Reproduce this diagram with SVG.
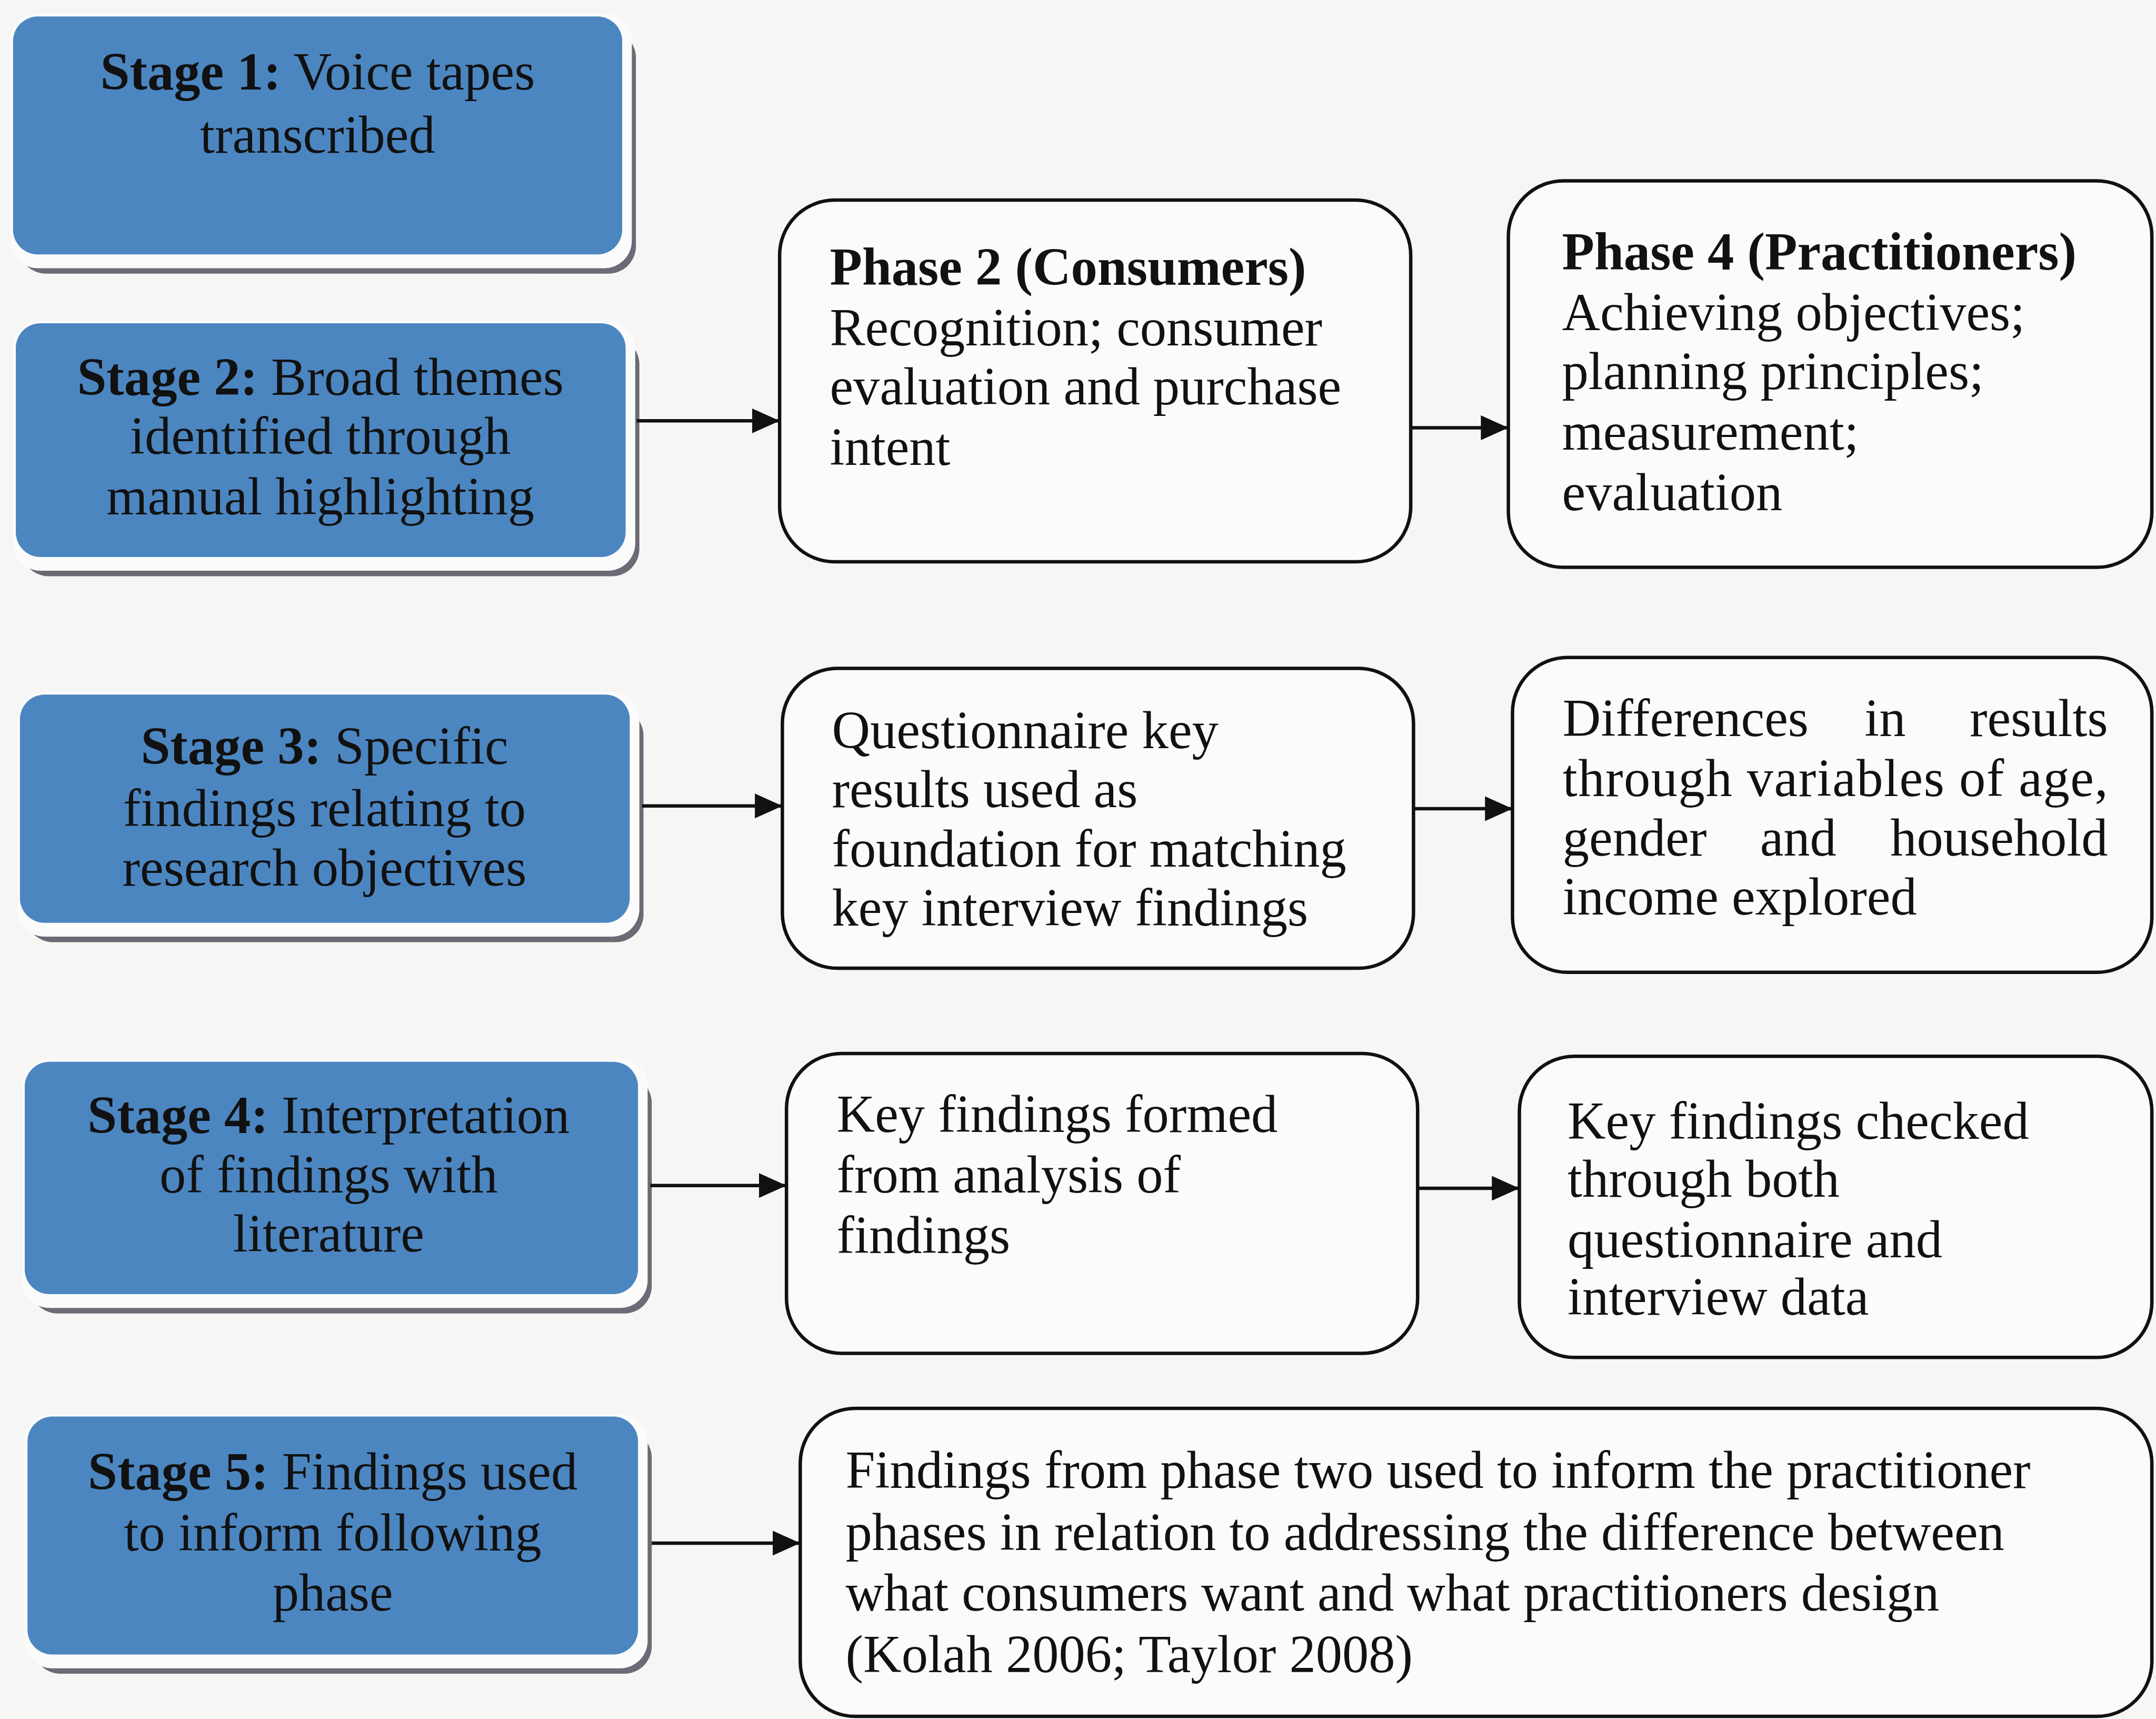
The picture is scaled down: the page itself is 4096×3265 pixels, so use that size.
<svg xmlns="http://www.w3.org/2000/svg" width="4096" height="3265" viewBox="0 0 4096 3265">
  <defs>
    <style>
      text { font-family: "Liberation Serif", "Times New Roman", serif; font-size: 38.5px; fill: #111; }
      .b { font-weight: bold; }
      .mid { text-anchor: middle; }
      .end { text-anchor: end; }
      .shadow { fill: #6b6b75; }
      .rim { fill: #fbfbfb; }
      .blue { fill: #4c86c1; }
      .phase { fill: #fbfbfa; stroke: #111; stroke-width: 2.5; }
      .link { stroke: #111; stroke-width: 2.5; fill: none; marker-end: url(#head); }
    </style>
    <marker id="head" markerUnits="userSpaceOnUse" markerWidth="20" markerHeight="18" refX="19" refY="9" orient="auto">
      <path d="M0,0 L20,9 L0,18 z" fill="#111"/>
    </marker>
  </defs>

  <rect width="4096" height="3265" fill="#f6f6f4"/>

  <!-- all layout below is drawn on a 1568-wide grid and scaled up -->
  <g transform="scale(2.61224)">

    <!-- stage boxes: blue panel on a white rim with a dark drop edge -->
    <g id="stage1">
      <rect class="shadow" x="13.5" y="22" width="449" height="177" rx="20"/>
      <rect class="rim" x="7.5" y="10" width="452" height="185" rx="20"/>
      <rect class="blue" x="9.5" y="12" width="443" height="173" rx="18"/>
      <text class="mid" x="231" y="65"><tspan class="b">Stage 1:</tspan> Voice tapes</text>
      <text class="mid" x="231" y="111">transcribed</text>
    </g>

    <g id="stage2">
      <rect class="shadow" x="15.5" y="245" width="449.5" height="174" rx="20"/>
      <rect class="rim" x="9.5" y="233" width="452.5" height="182" rx="20"/>
      <rect class="blue" x="11.5" y="235" width="443.5" height="170" rx="18"/>
      <text class="mid" x="233" y="287"><tspan class="b">Stage 2:</tspan> Broad themes</text>
      <text class="mid" x="233" y="330">identified through</text>
      <text class="mid" x="233" y="374">manual highlighting</text>
    </g>

    <g id="stage3">
      <rect class="shadow" x="18.5" y="515" width="449.5" height="170" rx="20"/>
      <rect class="rim" x="12.5" y="503" width="452.5" height="178" rx="20"/>
      <rect class="blue" x="14.5" y="505" width="443.5" height="166" rx="18"/>
      <text class="mid" x="236" y="555.5"><tspan class="b">Stage 3:</tspan> Specific</text>
      <text class="mid" x="236" y="600.5">findings relating to</text>
      <text class="mid" x="236" y="644">research objectives</text>
    </g>

    <g id="stage4">
      <rect class="shadow" x="22" y="782" width="452" height="173" rx="20"/>
      <rect class="rim" x="16" y="770" width="455" height="181" rx="20"/>
      <rect class="blue" x="18" y="772" width="446" height="169" rx="18"/>
      <text class="mid" x="239" y="824"><tspan class="b">Stage 4:</tspan> Interpretation</text>
      <text class="mid" x="239" y="867">of findings with</text>
      <text class="mid" x="239" y="910">literature</text>
    </g>

    <g id="stage5">
      <rect class="shadow" x="24" y="1040" width="450" height="177" rx="20"/>
      <rect class="rim" x="18" y="1028" width="453" height="185" rx="20"/>
      <rect class="blue" x="20" y="1030" width="444" height="173" rx="18"/>
      <text class="mid" x="242" y="1083"><tspan class="b">Stage 5:</tspan> Findings used</text>
      <text class="mid" x="242" y="1127.5">to inform following</text>
      <text class="mid" x="242" y="1171">phase</text>
    </g>

    <!-- outlined result boxes -->
    <g id="phase2">
      <rect class="phase" x="567" y="145.5" width="459" height="263" rx="40"/>
      <text class="b" x="603.5" y="207">Phase 2 (Consumers)</text>
      <text x="603.5" y="251">Recognition; consumer</text>
      <text x="603.5" y="294">evaluation and purchase</text>
      <text x="603.5" y="338">intent</text>
    </g>

    <g id="phase4">
      <rect class="phase" x="1097" y="131.5" width="468" height="281" rx="40"/>
      <text class="b" x="1136" y="196">Phase 4 (Practitioners)</text>
      <text x="1136" y="240">Achieving objectives;</text>
      <text x="1136" y="283">planning principles;</text>
      <text x="1136" y="327">measurement;</text>
      <text x="1136" y="371">evaluation</text>
    </g>

    <g id="questionnaire">
      <rect class="phase" x="569" y="486" width="459" height="218" rx="40"/>
      <text x="605" y="544">Questionnaire key</text>
      <text x="605" y="587">results used as</text>
      <text x="605" y="630">foundation for matching</text>
      <text x="605" y="673">key interview findings</text>
    </g>

    <g id="differences">
      <rect class="phase" x="1100" y="478" width="465" height="229" rx="40"/>
      <text x="1136.5" y="535">Differences</text>
      <text x="1356" y="535">in</text>
      <text class="end" x="1533" y="535">results</text>
      <text x="1136.5" y="579" textLength="396.5" lengthAdjust="spacing">through variables of age,</text>
      <text x="1136.5" y="622">gender</text>
      <text x="1280" y="622">and</text>
      <text class="end" x="1533" y="622">household</text>
      <text x="1136.5" y="665">income explored</text>
    </g>

    <g id="findings-formed">
      <rect class="phase" x="572" y="766" width="459" height="218" rx="40"/>
      <text x="608.5" y="823">Key findings formed</text>
      <text x="608.5" y="867">from analysis of</text>
      <text x="608.5" y="911">findings</text>
    </g>

    <g id="findings-checked">
      <rect class="phase" x="1105" y="768" width="460" height="219" rx="40"/>
      <text x="1140" y="828">Key findings checked</text>
      <text x="1140" y="870">through both</text>
      <text x="1140" y="914">questionnaire and</text>
      <text x="1140" y="956">interview data</text>
    </g>

    <g id="findings-used">
      <rect class="phase" x="582" y="1024" width="983" height="224" rx="40"/>
      <text x="615" y="1082">Findings from phase two used to inform the practitioner</text>
      <text x="615" y="1127">phases in relation to addressing the difference between</text>
      <text x="615" y="1171">what consumers want and what practitioners design</text>
      <text x="615" y="1216">(Kolah 2006; Taylor 2008)</text>
    </g>

    <!-- connectors -->
    <g id="connectors">
      <line class="link" x1="463" y1="306" x2="566" y2="306"/>
      <line class="link" x1="1026" y1="311" x2="1096" y2="311"/>
      <line class="link" x1="467" y1="586" x2="568" y2="586"/>
      <line class="link" x1="1028" y1="588" x2="1099" y2="588"/>
      <line class="link" x1="473" y1="862" x2="571" y2="862"/>
      <line class="link" x1="1031" y1="864" x2="1104" y2="864"/>
      <line class="link" x1="474" y1="1122" x2="581" y2="1122"/>
    </g>
  </g>
</svg>
